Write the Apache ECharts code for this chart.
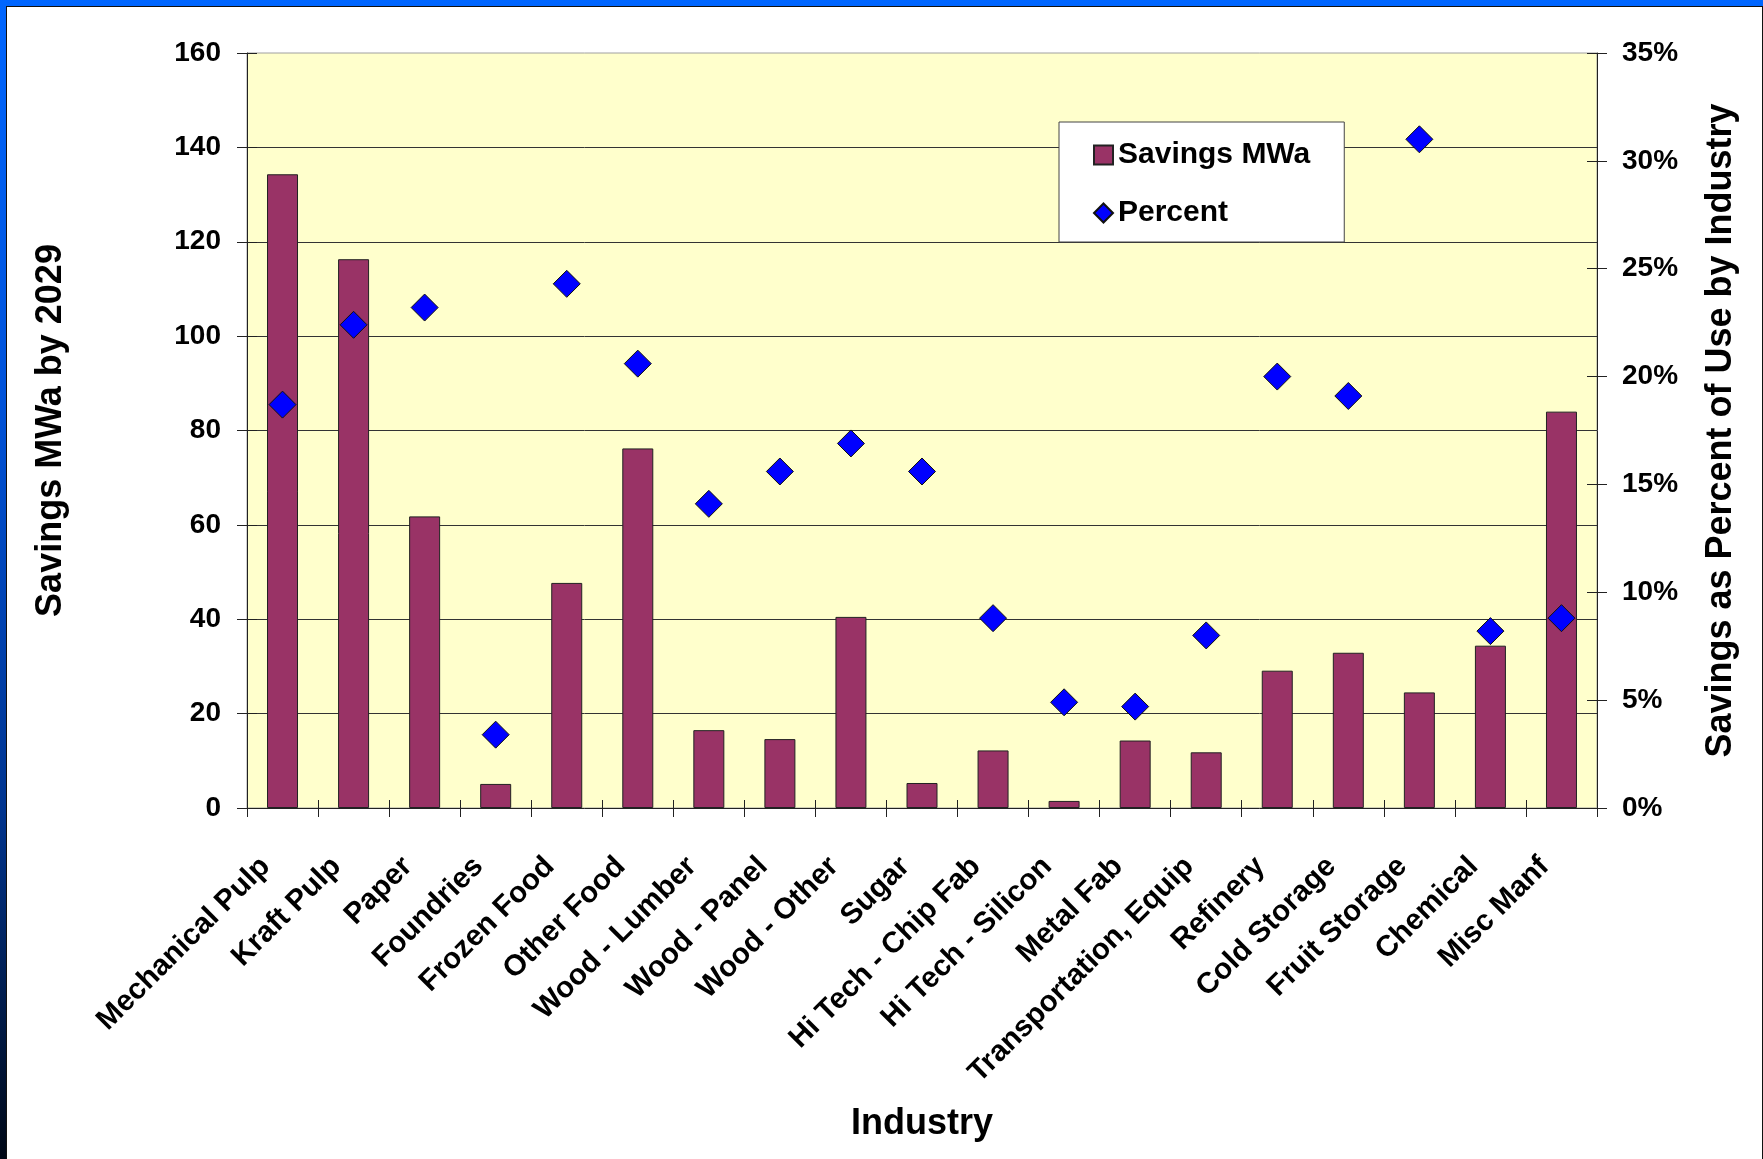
<!DOCTYPE html>
<html>
<head>
<meta charset="utf-8">
<title>Savings MWa by 2029</title>
<script src="https://cdn.jsdelivr.net/npm/echarts@6/dist/echarts.min.js"></script>
<style>
  html, body { margin: 0; padding: 0; width: 1763px; height: 1159px; overflow: hidden; }
  body { background: linear-gradient(to bottom, #0066ff 0%, #0052d8 35%, #00348e 70%, #000816 100%); position: relative; }
  #frame {
    position: absolute; left: 6px; top: 6px; width: 1757px; height: 1153px;
    box-sizing: border-box; background: #ffffff;
    border-left: 1px solid #111; border-top: 1px solid #111; border-right: 1px solid #111;
  }
  #chart { width: 100%; height: 100%; }
</style>
</head>
<body>
<div id="frame"><div id="chart"></div></div>
<script>
// Industries along the category axis
const industries = [
  'Mechanical Pulp', 'Kraft Pulp', 'Paper', 'Foundries', 'Frozen Food', 'Other Food',
  'Wood - Lumber', 'Wood - Panel', 'Wood - Other', 'Sugar', 'Hi Tech - Chip Fab',
  'Hi Tech - Silicon', 'Metal Fab', 'Transportation, Equip', 'Refinery', 'Cold Storage',
  'Fruit Storage', 'Chemical', 'Misc Manf'
];

// Savings in average megawatts by 2029 (left axis)
const savingsMWa = [
  134.3, 116.3, 61.8, 5.1, 47.7, 76.2,
  16.5, 14.6, 40.5, 5.3, 12.2,
  1.5, 14.3, 11.8, 29.1, 32.9,
  24.5, 34.4, 84.0
];

// Savings as percent of each industry's use (right axis)
const percentOfUse = [
  18.7, 22.4, 23.2, 3.4, 24.3, 20.6,
  14.1, 15.6, 16.9, 15.6, 8.8,
  4.9, 4.7, 8.0, 20.0, 19.1,
  31.0, 8.2, 8.8
];

// Axis ranges
const mwaAxis = { min: 0, max: 160, interval: 20 };
const pctAxis = { min: 0, max: 35, interval: 5 };

const FONT = '"Liberation Sans", Arial, sans-serif';
const INK = '#000000';
const LINE = '#222222';

const chart = echarts.init(document.getElementById('chart'), null, { renderer: 'canvas' });

const tickLabel = { color: INK, fontFamily: FONT, fontWeight: 'bold', fontSize: 28 };
const axisName = { color: INK, fontFamily: FONT, fontWeight: 'bold', fontSize: 36 };

chart.setOption({
  animation: false,
  backgroundColor: '#ffffff',
  textStyle: { fontFamily: FONT },
  grid: {
    left: 240, right: 165, top: 46, bottom: 351,
    show: true, backgroundColor: '#ffffcc', borderColor: '#a0a0a0', borderWidth: 1
  },
  legend: {
    orient: 'vertical',
    left: 1052, top: 115,
    backgroundColor: '#ffffff',
    borderColor: '#444444', borderWidth: 1,
    padding: [18, 34, 14, 34],
    itemGap: 28,
    itemWidth: 19, itemHeight: 19,
    textStyle: { color: INK, fontFamily: FONT, fontWeight: 'bold', fontSize: 30 },
    data: [
      { name: 'Savings MWa', icon: 'rect' },
      { name: 'Percent', icon: 'diamond' }
    ]
  },
  xAxis: [
    {
      type: 'category', data: industries, position: 'bottom',
      name: 'Industry', nameLocation: 'middle', nameGap: 298, nameTextStyle: axisName,
      axisLine: { show: true, lineStyle: { color: LINE, width: 1 } },
      axisTick: { show: true, interval: 0, length: 9, lineStyle: { color: LINE } },
      axisLabel: Object.assign({ interval: 0, rotate: 45, margin: 37, padding: [0, 24, 0, 0] }, tickLabel, { fontSize: 29.5 }),
      splitLine: { show: false }
    },
    {
      // inner half of the crossing tick marks
      type: 'category', data: industries, position: 'bottom',
      axisLine: { show: false },
      axisTick: { show: true, inside: true, interval: 0, length: 8, lineStyle: { color: LINE } },
      axisLabel: { show: false },
      splitLine: { show: false }
    }
  ],
  yAxis: [
    Object.assign({
      type: 'value', position: 'left',
      name: 'Savings MWa by 2029', nameLocation: 'middle', nameRotate: 90, nameGap: 178,
      nameTextStyle: axisName,
      axisLine: { show: true, lineStyle: { color: LINE, width: 1 } },
      axisTick: { show: true, length: 10, lineStyle: { color: LINE } },
      axisLabel: Object.assign({ margin: 26 }, tickLabel),
      splitLine: { show: true, showMinLine: false, showMaxLine: false, lineStyle: { color: '#333333', width: 1 } }
    }, mwaAxis),
    Object.assign({
      type: 'value', position: 'right',
      name: 'Savings as Percent of Use by Industry', nameLocation: 'middle', nameRotate: 90, nameGap: 106,
      nameTextStyle: axisName,
      axisLine: { show: true, lineStyle: { color: LINE, width: 1 } },
      axisTick: { show: true, length: 10, lineStyle: { color: LINE } },
      axisLabel: Object.assign({ margin: 25, formatter: '{value}%' }, tickLabel),
      splitLine: { show: false }
    }, pctAxis),
    Object.assign({
      // inner half of the left crossing ticks
      type: 'value', position: 'left',
      axisLine: { show: false },
      axisTick: { show: true, inside: true, length: 10, lineStyle: { color: LINE } },
      axisLabel: { show: false },
      splitLine: { show: false }
    }, mwaAxis),
    Object.assign({
      // inner half of the right crossing ticks
      type: 'value', position: 'right',
      axisLine: { show: false },
      axisTick: { show: true, inside: true, length: 10, lineStyle: { color: LINE } },
      axisLabel: { show: false },
      splitLine: { show: false }
    }, pctAxis)
  ],
  series: [
    {
      name: 'Savings MWa', type: 'bar',
      xAxisIndex: 0, yAxisIndex: 0,
      data: savingsMWa,
      barWidth: 31,
      itemStyle: { color: '#993366', borderColor: '#222222', borderWidth: 1 }
    },
    {
      name: 'Percent', type: 'scatter',
      xAxisIndex: 0, yAxisIndex: 1,
      data: percentOfUse,
      symbol: 'diamond', symbolSize: [27, 27],
      itemStyle: { color: '#0000ff', borderColor: '#111111', borderWidth: 1, opacity: 1 },
      z: 5
    }
  ]
});
</script>
</body>
</html>
